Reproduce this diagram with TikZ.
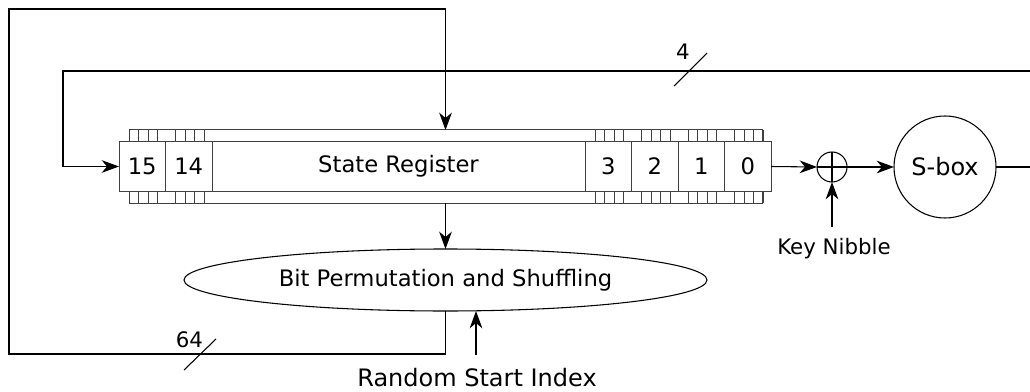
\documentclass[tikz,border=0pt]{standalone}
\usepackage{fontspec}
\setmainfont{DejaVu Sans}
\usetikzlibrary{arrows.meta,shapes.geometric}
\begin{document}
\begin{tikzpicture}[x=0.75pt,y=-0.75pt,
  font=\fontsize{17}{20}\selectfont,
  line width=0.8pt,
  arr/.style={-{Stealth[length=13pt,width=9.5pt,inset=4pt]}},
  reg/.style={draw=black!75,line width=0.75pt},
  cell/.style={reg,fill=white,rectangle,minimum height=36.75pt,minimum width=34.875pt,inner sep=0pt,outer sep=0pt},
  lbl/.style={inner sep=0pt},
  big/.style={font=\fontsize{18}{21}\selectfont},
  small/.style={font=\fontsize{16}{19}\selectfont},
  circ/.style={draw,circle,inner sep=0pt,outer sep=0pt},
]
\useasboundingbox (0,0) rectangle (1030,392);
\begin{scope}
\clip (0,0) rectangle (1030,392);
% register frame and bit ticks
\node[reg,rectangle,minimum width=474.75pt,minimum height=54.75pt,inner sep=0pt,outer sep=0pt] (frame) at (445.5,166.5) {};
\foreach \L in {119,165.5,585,631.5,678,724.5}{
  \foreach \d in {10,19.5,29,38.5}{
    \draw[reg] (\L+\d,130) -- (\L+\d,142) (\L+\d,191) -- (\L+\d,203);
  }
}
% cells
\node[cell] (c15) at (142.25,166.5) {15};
\node[cell] (c14) at (188.75,166.5) {14};
\node[cell,minimum width=279.75pt] (sr) at (398.5,166.5) {State Register};
\node[cell] (c3) at (608.25,166.5) {3};
\node[cell] (c2) at (654.75,166.5) {2};
\node[cell] (c1) at (701.25,166.5) {1};
\node[cell] (c0) at (747.75,166.5) {0};
% permutation
\node[draw,ellipse,minimum width=392.25pt,minimum height=46.5pt,inner sep=0pt,outer sep=0pt] (perm) at (445.5,280) {Bit Permutation and Shuffling};
% xor and sbox
\node[circ,minimum size=22.5pt] (xor) at (832,167) {};
\draw (xor.north) -- (xor.south) (xor.west) -- (xor.east);
\node[circ,big,minimum size=76.5pt] (sbox) at (945,167) {S-box};
% labels
\node[lbl,small,anchor=base] (kn) at (834,254) {Key Nibble};
\node[lbl,big,anchor=base] (rsi) at (477,386) {Random Start Index};
\coordinate (knstart) at (832,227);
\coordinate (rsistart) at (476,355);
% connectors
\draw[arr] (frame.south) -- (perm.north);
\draw[arr] (c0.east) -- (xor.west);
\draw[arr] (xor.east) -- (sbox.west);
\draw[arr] (knstart) -- (xor.south);
\draw[arr] (rsistart) -- (rsistart |- perm.south);
% big loop (64)
\coordinate (bl) at (9,354);
\coordinate (tl) at (9,9);
\draw[arr] (perm.south) |- (bl) -- (tl) -| (frame.north);
\draw (184,370) -- (216,339);
\node[lbl,small] (n64) at (189.5,340) {64};
% nibble loop (4)
\coordinate (rr) at (1040,167);
\coordinate (rt) at (1040,71);
\coordinate (lt) at (63,71);
\draw[arr] (sbox.east) -- (rr) -- (rt) -- (lt) |- (c15.west);
\draw (674,86) -- (707,53);
\node[lbl,small] (n4) at (683,51.5) {4};
\end{scope}
\end{tikzpicture}
\end{document}
